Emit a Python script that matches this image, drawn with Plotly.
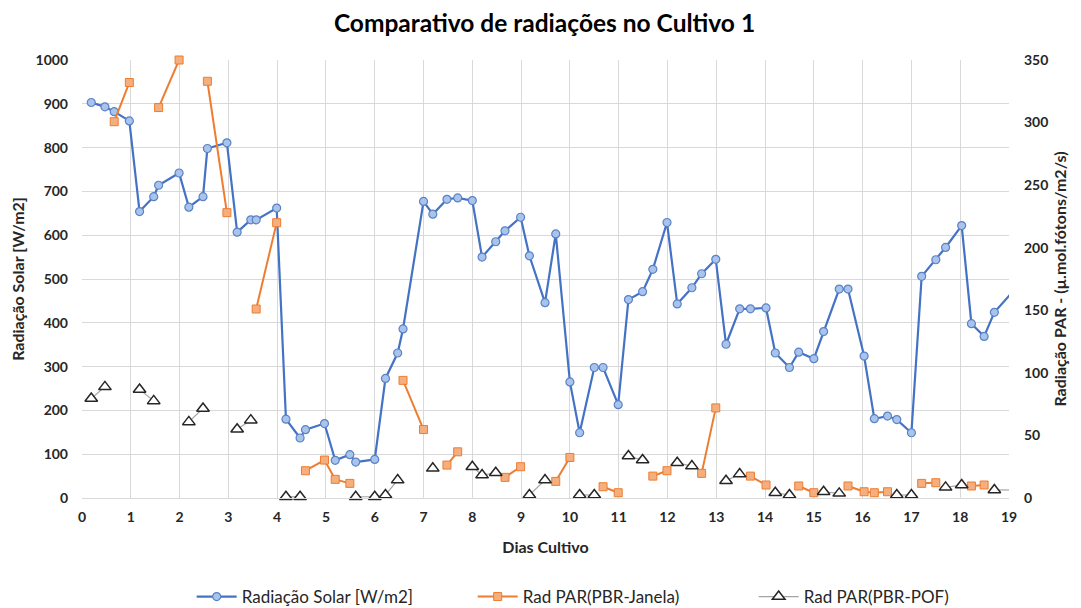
import plotly.graph_objects as go

# Dias de cultivo (4 leituras por dia)
dias = [0.19, 0.47, 0.66, 0.97, 1.18, 1.47, 1.57, 1.99, 2.19, 2.48, 2.57, 2.97,
        3.18, 3.46, 3.57, 3.99, 4.18, 4.47, 4.58, 4.97, 5.19, 5.49, 5.61, 6.0,
        6.22, 6.47, 6.58, 7.0, 7.19, 7.48, 7.70, 8.0, 8.2, 8.48, 8.67, 8.99,
        9.17, 9.49, 9.71, 10.0, 10.2, 10.5, 10.68, 10.99, 11.2, 11.49, 11.70, 11.99,
        12.2, 12.5, 12.7, 12.99, 13.2, 13.48, 13.7, 14.02, 14.21, 14.5, 14.69, 15.0,
        15.2, 15.52, 15.70, 16.03, 16.24, 16.51, 16.7, 17.0, 17.21, 17.5, 17.7, 18.03,
        18.23, 18.49, 18.70, 19.03]

radiacao_solar = [903, 893, 882, 861, 654, 688, 714, 742, 664, 688, 798, 811,
                  607, 635, 635, 662, 180, 137, 156, 170, 86, 99, 82, 88,
                  273, 331, 386, 677, 648, 682, 685, 679, 550, 585, 610, 641,
                  553, 446, 603, 265, 149, 298, 298, 213, 453, 471, 522, 629,
                  443, 480, 512, 545, 351, 432, 432, 434, 331, 298, 333, 318,
                  380, 477, 477, 324, 181, 187, 179, 149, 506, 544, 572, 622,
                  398, 369, 424, 465]

N = None
par_janela = [N, N, 300.7, 332, N, N, 312, 350, N, N, 333, 228,
              N, N, 151, 220, N, N, 21.8, 30.3, 14.9, 11.7, N, N,
              N, N, 94, 54.7, N, 26.3, 36.9, N, N, N, 16.5, 25,
              N, N, 13.3, 32.4, N, N, 9, 4.2, N, N, 17.5, 21.8,
              N, N, 19.7, 72, N, N, 17.5, 10.4, N, N, 9.6, 4.2,
              N, N, 9.6, 5, 4.2, 5, N, N, 11.7, 12.2, N, N,
              9.6, 10.4, N, N]

par_pof = [79.5, 88.8, N, N, 86.7, 77.6, N, N, 60.8, 71.5, N, N,
           55, 62.2, N, N, 1, 1, N, N, N, N, 1, 1,
           2.4, 14.3, N, N, 23.7, N, N, 25, 18.3, 20.2, N, N,
           2.4, 14.3, N, N, 2.4, 2.4, N, N, 33.5, 30.3, N, N,
           28.1, 25.5, N, N, 13.8, 19.1, N, N, 4.2, 2.4, N, N,
           5, 3.7, N, N, N, N, 2.4, 2.4, N, N, 8.5, 10.4,
           N, N, 6.4, 6.4]

x_ticks = list(range(0, 20))
y1_ticks = list(range(0, 1001, 100))
y2_ticks = list(range(0, 351, 50))

FONT = "Lato"
TXT = "#262626"

fig = go.Figure()
fig.add_trace(go.Scatter(
    x=dias, y=radiacao_solar, name="Radiação Solar [W/m2]", mode="lines+markers",
    cliponaxis=False,
    line=dict(color="#4472C4", width=2.2),
    marker=dict(symbol="circle", size=8, color="#A9C4EA",
                line=dict(color="#5B82C8", width=1.2)),
))
fig.add_trace(go.Scatter(
    x=dias, y=par_janela, name="Rad PAR(PBR-Janela)", mode="lines+markers",
    yaxis="y2", cliponaxis=False,
    line=dict(color="#ED7D31", width=2),
    marker=dict(symbol="square", size=8, color="#F5AE7D",
                line=dict(color="#ED7D31", width=1)),
))
fig.add_trace(go.Scatter(
    x=dias, y=par_pof, name="Rad PAR(PBR-POF)", mode="lines+markers",
    yaxis="y2", cliponaxis=False,
    line=dict(color="#A5A5A5", width=1.2),
    marker=dict(symbol="triangle-up", size=11, color="white",
                line=dict(color="#262626", width=1.5)),
))

fig.update_layout(
    width=1073, height=600,
    margin=dict(l=74, r=72, t=52, b=110, autoexpand=False),
    paper_bgcolor="white", plot_bgcolor="white",
    font=dict(family=FONT, color=TXT),
    title=dict(text="<b>Comparativo de radiações no Cultivo 1</b>",
               x=0.5, xanchor="center", y=0.974, yanchor="middle",
               font=dict(size=24.5, color="#000000", family=FONT)),
    xaxis=dict(range=[0, 19], tickvals=x_ticks, showgrid=True, automargin=False,
               gridcolor="#D9D9D9", gridwidth=1, zeroline=False,
               showline=True, linecolor="#D9D9D9",
               ticklabelstandoff=6,
               tickfont=dict(size=14, weight="bold", color=TXT),
               title=dict(text="<b>Dias Cultivo</b>", font=dict(size=16, color=TXT), standoff=18)),
    yaxis=dict(range=[0, 1000], tickvals=y1_ticks, showgrid=True, automargin=False,
               gridcolor="#D9D9D9", gridwidth=1, zeroline=False,
               ticklabelstandoff=13,
               tickfont=dict(size=14, weight="bold", color=TXT),
               title=dict(text="<b>Radiação Solar [W/m2]</b>", font=dict(size=16, color=TXT), standoff=10)),
    yaxis2=dict(range=[0, 350], tickvals=y2_ticks, overlaying="y", side="right",
                showgrid=False, zeroline=False, automargin=False,
                ticklabelstandoff=14,
                tickfont=dict(size=14, weight="bold", color=TXT),
                title=dict(text="<b>Radiação PAR - (µ.mol.fótons/m2/s)</b>",
                           font=dict(size=16, color=TXT), standoff=7)),
    legend=dict(orientation="h", x=0.573, xanchor="center", y=-0.226, yanchor="middle",
                font=dict(size=17, color=TXT), itemwidth=40,
                entrywidth=226, entrywidthmode="pixels",
                traceorder="normal"),
    showlegend=True,
)

fig.write_html("out.html")
